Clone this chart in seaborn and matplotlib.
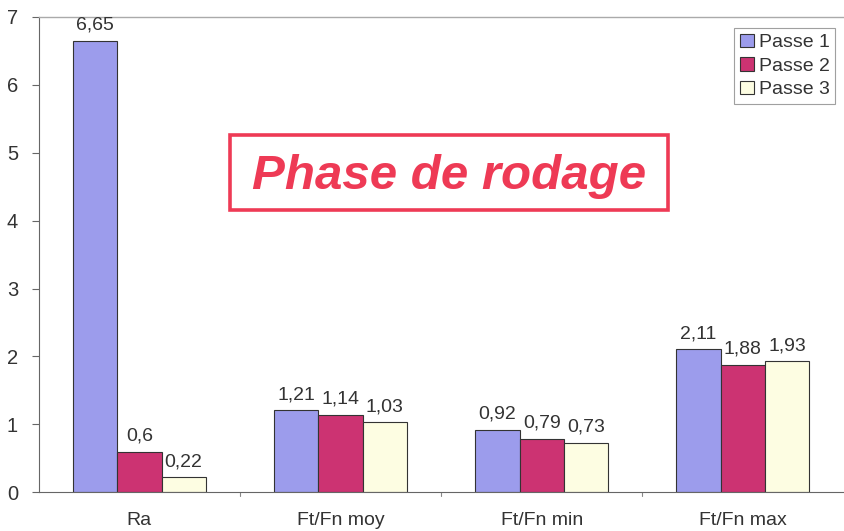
import matplotlib
matplotlib.use("Agg")
import matplotlib.pyplot as plt
from matplotlib.patches import Rectangle
import seaborn as sns
import pandas as pd

categories = ["Ra", "Ft/Fn moy", "Ft/Fn min", "Ft/Fn max"]
series = ["Passe 1", "Passe 2", "Passe 3"]
passe1 = [6.65, 1.21, 0.92, 2.11]
passe2 = [0.6, 1.14, 0.79, 1.88]
passe3 = [0.22, 1.03, 0.73, 1.93]
y_ticks = [0, 1, 2, 3, 4, 5, 6, 7]

colors = ["#9c9cec", "#cc3372", "#fdfde2"]

rows = []
for name, vals in zip(series, [passe1, passe2, passe3]):
    for cat, v in zip(categories, vals):
        rows.append({"cat": cat, "serie": name, "val": v})
df = pd.DataFrame(rows)

sns.set_theme(style="white")
plt.rcParams["font.family"] = ["Liberation Sans", "DejaVu Sans"]

fig = plt.figure(figsize=(8.45, 5.31), dpi=100)
ax = fig.add_axes([0.046, 0.073, 0.952, 0.895])

sns.barplot(data=df, x="cat", y="val", hue="serie", order=categories,
            hue_order=series, palette=colors, width=0.66, saturation=1,
            edgecolor="#333333", linewidth=0.8, ax=ax)

for cont in ax.containers:
    labels = [f"{b.get_height():g}".replace(".", ",") for b in cont]
    ax.bar_label(cont, labels=labels, padding=5, fontsize=14, color="#333333")

ax.set_ylim(0, 7)
ax.set_xlim(-0.5, 3.5)
ax.set_yticks(y_ticks)
ax.set_yticklabels([str(t) for t in y_ticks], fontsize=14.5, color="#333333")
ax.tick_params(axis="y", left=True, length=5, width=0.8, color="#666666", pad=10)
ax.tick_params(axis="x", bottom=False, length=0, labelsize=14,
               labelcolor="#333333", pad=14)
for xb in [0.5, 1.5, 2.5]:
    ax.plot([xb, xb], [0, -0.06], color="#888888", lw=0.8, clip_on=False)
ax.set_xlabel("")
ax.set_ylabel("")

ax.spines["right"].set_visible(False)
ax.spines["top"].set_color("#aaaaaa")
ax.spines["top"].set_linewidth(1.0)
for side in ["left", "bottom"]:
    ax.spines[side].set_color("#666666")
    ax.spines[side].set_linewidth(0.8)

leg = ax.legend(loc="upper right", bbox_to_anchor=(0.995, 0.985), fontsize=14,
                frameon=True, fancybox=False, edgecolor="#888888",
                handlelength=0.7, handleheight=0.7, handletextpad=0.25,
                labelspacing=0.3, borderpad=0.3, borderaxespad=0.2)
leg.get_frame().set_linewidth(0.8)
for t in leg.get_texts():
    t.set_color("#333333")

# framed annotation in the middle of the plot
fig.patches.append(Rectangle((0.272, 0.6045), 0.518, 0.141,
                             transform=fig.transFigure, facecolor="white",
                             edgecolor="#ee3a55", linewidth=2.6, zorder=5))
fig.text(0.531, 0.668, "Phase de rodage", ha="center", va="center",
         fontsize=35.5, fontweight="bold", fontstyle="italic",
         color="#ee3a55", zorder=6)

fig.savefig("out.png", dpi=100)
